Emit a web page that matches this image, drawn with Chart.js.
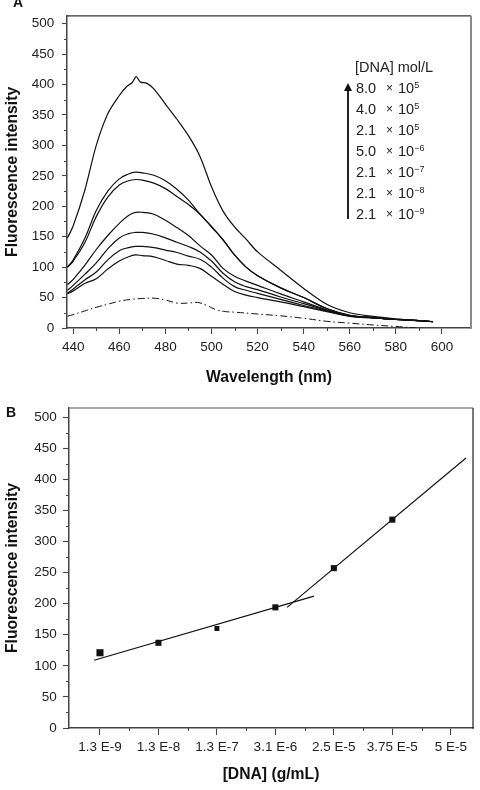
<!DOCTYPE html>
<html>
<head>
<meta charset="utf-8">
<script src="https://cdn.jsdelivr.net/npm/chart.js@4.4.1/dist/chart.umd.min.js"></script>
<style>
html,body{margin:0;padding:0;background:#fff;}
body{width:480px;height:790px;position:relative;overflow:hidden;font-family:'Liberation Sans',Arial,sans-serif;color:#111;}
canvas{position:absolute;left:0;}
#cA{top:0;}
#cB{top:390px;}
.panel{position:absolute;font-weight:bold;font-size:14px;line-height:14px;color:#111;}
.leg{position:absolute;left:0;width:480px;height:21px;font-size:14.5px;line-height:21px;color:#222;white-space:nowrap;}
.leg span{position:absolute;top:0;}
.leg .m{left:356px;}
.leg .t{left:386px;font-size:12px;}
.leg .p{left:398px;}
.leg sup{font-size:9px;vertical-align:5px;line-height:0;}
#arrowLine{position:absolute;left:347px;top:90px;width:1.5px;height:129px;background:#222;}
#arrowHead{position:absolute;left:344px;top:83px;width:0;height:0;border-left:4px solid transparent;border-right:4px solid transparent;border-bottom:8px solid #111;}
</style>
</head>
<body>
<canvas id="cA" width="480" height="390"></canvas>
<canvas id="cB" width="480" height="400"></canvas>
<div class="panel" style="left:13px;top:-5px;">A</div>
<div class="panel" style="left:6px;top:405px;">B</div>

<div class="leg" style="top:56.5px;"><span style="left:355px;">[DNA] mol/L</span></div>
<div id="arrowLine"></div>
<div id="arrowHead"></div>
<div id="legRows"></div>

<script>
// ---------- Chart A data ----------
const wavelengths = [437.5,440,445,450,455,460,464,467,470,475,480,485,490,495,500,505,510,515,520,530,540,550,560,570,580,590,596];
const topWavelengths = [437.5,440,445,450,455,460,463,465.5,466.5,467.3,468.2,469.2,472,475,480,485,490,495,500,505,510,515,520,530,540,550,560,570,580,590,596];
const dna8e5 = [148,168,226,300,352,382,396,403,409,413,409,404,402,393,368,343,316,282,232,192,166,146,125,95,65,39,25,19,15,12,10.5];
const dna4e5 = [100,112,147,193,225,245,253,256,255,251,242,228,210,187,167,145,120,100,86,66,50,32,21,17,14,12,10.5];
const dna21e5 = [100,110,140,183,215,235,242,244,243,238,229,216,203,187,166,145,120,100,86,66,50,32,21,17,14,12,10.5];
const dna5e6 = [71,80,103,129,152,172,185,190,190,187,177,165,152,135,120,98,85,77,70,56,43,30,20,17,14,12,10.5];
const dna21e7 = [62,70,88,107,130,148,155,157,157,154,148,141,134,125,110,90,76,68,63,51,40,29,20,17,14,12,10.5];
const dna21e8 = [57,64,79,92,112,127,132,134,134,132,128,124,118,113,100,82,68,62,57,47,37,28,20,17,14,12,10.5];
const dna21e9 = [56,61,73,81,97,110,117,120,119,117,111,105,103,98,85,72,60,54,50,43,35,27,19,16.5,14,12,10.5];
const blankWavelengths = [437.5,440,445,450,455,460,465,470,475,480,485,490,494,498,502,506,510,520,530,540,550,560,570,580,589];
const blankVals = [19.5,22,28,34,39,44,47,48.5,49,46,41,41,42,37,30,27,26,23,20,16,11,8,5,2.5,0];
const wlTicks = [440,460,480,500,520,540,560,580,600];
const wlMinor = [450,470,490,510,530,550,570,590];
const intTicks = [0,50,100,150,200,250,300,350,400,450,500];
const intMinor = [25,75,125,175,225,275,325,375,425,475];
const legendMantissa = ['8.0','4.0','2.1','5.0','2.1','2.1','2.1'];
const legendExponent = ['5','5','5','\u22126','\u22127','\u22128','\u22129'];

// ---------- Chart B data ----------
const concLabels = ['1.3 E-9','1.3 E-8','1.3 E-7','3.1 E-6','2.5 E-5','3.75 E-5','5 E-5'];
const concIndex = [0,1,2,3,4,5];
const concVals = [121,137,160,194,257,335];
const concTicks = [0,1,2,3,4,5,6];
const concMinor = [0.5,1.5,2.5,3.5,4.5,5.5];
const fitLowX = [-0.1,3.66];
const fitLowY = [109,212];
const fitHighX = [3.2,6.26];
const fitHighY = [194,434];

// ---------- legend rows (HTML text) ----------
const legRows = document.getElementById('legRows');
legendMantissa.forEach((m,i)=>{
  const d = document.createElement('div');
  d.className = 'leg';
  d.style.top = (77.7 + i*21) + 'px';
  d.innerHTML = '<span class="m">'+m+'</span><span class="t">\u00d7</span><span class="p">10<sup>'+legendExponent[i]+'</sup></span>';
  legRows.appendChild(d);
});

const FONT = "'Liberation Sans', Arial, sans-serif";
Chart.defaults.font.family = FONT;

const pts = (xs, ys) => xs.map((x,i)=>({x:x, y:ys[i]}));

function framePlugin(o){
  return {
    id:'frame',
    afterDraw(chart){
      const ctx = chart.ctx, a = chart.chartArea;
      const xs = chart.scales.x, ys = chart.scales.y;
      ctx.save();
      ctx.strokeStyle = o.topColor; ctx.lineWidth = o.topWidth;
      ctx.beginPath(); ctx.moveTo(a.left, a.top); ctx.lineTo(a.right, a.top); ctx.stroke();
      ctx.strokeStyle = o.rightColor; ctx.lineWidth = o.rightWidth;
      ctx.beginPath(); ctx.moveTo(a.right, a.top); ctx.lineTo(a.right, a.bottom+0.75); ctx.stroke();
      ctx.strokeStyle = '#444'; ctx.lineWidth = 1.1;
      ctx.beginPath();
      o.minorX.forEach(v=>{ const px = Math.round(xs.getPixelForValue(v))+0.5; ctx.moveTo(px, a.bottom); ctx.lineTo(px, a.bottom+o.minorLen); });
      o.minorY.forEach(v=>{ const py = Math.round(ys.getPixelForValue(v))+0.5; ctx.moveTo(a.left, py); ctx.lineTo(a.left-o.minorLen, py); });
      ctx.stroke();
      ctx.restore();
    }
  };
}

function axisCommon(tickLen, pad){
  return {
    grid:{drawOnChartArea:false, color:'#444', tickLength:tickLen, tickWidth:1.1},
    border:{color:'#444', width:1.5},
    ticks:{color:'#222', font:{family:FONT, size:13.5}, padding:pad, maxRotation:0, autoSkip:false}
  };
}

const lineStyle = {showLine:true, pointRadius:0, borderColor:'#111', borderWidth:1.2, tension:0.4, fill:false};

// ---------- Chart A ----------
new Chart(document.getElementById('cA'), {
  type:'scatter',
  data:{datasets:[
    Object.assign({label:'8.0e5', data:pts(topWavelengths, dna8e5)}, lineStyle, {tension:0.3}),
    Object.assign({label:'4.0e5', data:pts(wavelengths, dna4e5)}, lineStyle),
    Object.assign({label:'2.1e5', data:pts(wavelengths, dna21e5)}, lineStyle),
    Object.assign({label:'5.0e-6', data:pts(wavelengths, dna5e6)}, lineStyle),
    Object.assign({label:'2.1e-7', data:pts(wavelengths, dna21e7)}, lineStyle),
    Object.assign({label:'2.1e-8', data:pts(wavelengths, dna21e8)}, lineStyle),
    Object.assign({label:'2.1e-9', data:pts(wavelengths, dna21e9)}, lineStyle),
    Object.assign({label:'blank', data:pts(blankWavelengths, blankVals)}, lineStyle, {borderWidth:1, borderDash:[7,3,1.5,3]})
  ]},
  options:{
    responsive:false, animation:false, devicePixelRatio:1,
    layout:{padding:{left:0, right:9, top:12, bottom:0}},
    plugins:{legend:{display:false}, tooltip:{enabled:false}},
    scales:{
      x: Object.assign(axisCommon(6, 4.9), {
        type:'linear', min:437.3, max:612.6,
        afterBuildTicks:s=>{ s.ticks = wlTicks.map(v=>({value:v})); },
        afterFit:s=>{ s.height = 62; },
        title:{display:true, text:'Wavelength (nm)', color:'#111', font:{family:FONT, size:15.7, weight:'bold'}, padding:{top:0, bottom:2.6}}
      }),
      y: Object.assign(axisCommon(5, 7.7), {
        type:'linear', min:0, max:513,
        afterBuildTicks:s=>{ s.ticks = intTicks.map(v=>({value:v})); },
        afterFit:s=>{ s.width = 67; },
        title:{display:true, text:'Fluorescence intensity', color:'#111', font:{family:FONT, size:15.7, weight:'bold'}, padding:{top:3.6, bottom:0}}
      })
    }
  },
  plugins:[framePlugin({topColor:'#333', topWidth:1.2, rightColor:'#8a8a8a', rightWidth:2, minorX:wlMinor, minorY:intMinor, minorLen:3})]
});

// ---------- Chart B ----------
const bX = axisCommon(7, 3.9);
bX.ticks.callback = v => concLabels[Math.round(v)];
new Chart(document.getElementById('cB'), {
  type:'scatter',
  data:{datasets:[
    {label:'measured', data:pts(concIndex, concVals), pointStyle:'rect', pointRadius:[5,4.3,3.5,4.3,4.3,4.3], backgroundColor:'#111', borderWidth:0, showLine:false},
    Object.assign({label:'fit low', data:pts(fitLowX, fitLowY)}, lineStyle, {tension:0}),
    Object.assign({label:'fit high', data:pts(fitHighX, fitHighY)}, lineStyle, {tension:0})
  ]},
  options:{
    responsive:false, animation:false, devicePixelRatio:1,
    layout:{padding:{left:0, right:7, top:18, bottom:0}},
    plugins:{legend:{display:false}, tooltip:{enabled:false}},
    scales:{
      x: Object.assign(bX, {
        type:'linear', min:-0.53, max:6.38,
        afterBuildTicks:s=>{ s.ticks = concTicks.map(v=>({value:v})); },
        afterFit:s=>{ s.height = 62; },
        title:{display:true, text:'[DNA] (g/mL)', color:'#111', font:{family:FONT, size:15.7, weight:'bold'}, padding:{top:0, bottom:5.6}}
      }),
      y: Object.assign(axisCommon(6, 6.3), {
        type:'linear', min:0, max:514.5,
        afterBuildTicks:s=>{ s.ticks = intTicks.map(v=>({value:v})); },
        afterFit:s=>{ s.width = 69; },
        title:{display:true, text:'Fluorescence intensity', color:'#111', font:{family:FONT, size:15.7, weight:'bold'}, padding:{top:3.6, bottom:0}}
      })
    }
  },
  plugins:[framePlugin({topColor:'#8a8a8a', topWidth:1.5, rightColor:'#222', rightWidth:1.2, minorX:concMinor, minorY:intMinor, minorLen:3})]
});
</script>
</body>
</html>
